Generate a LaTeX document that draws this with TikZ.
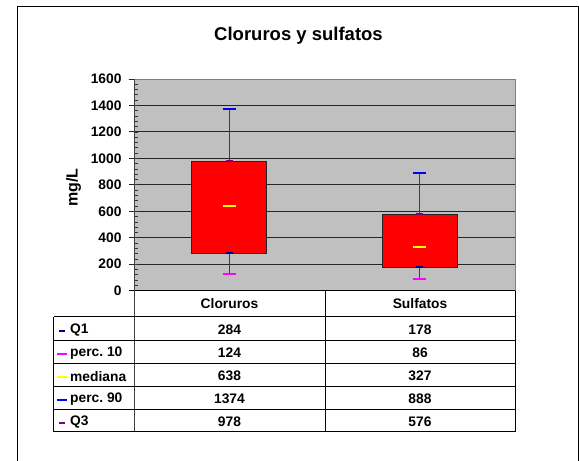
\documentclass[tikz,border=0pt]{standalone}
\usepackage{fontspec}
\setmainfont{Liberation Sans}
\frenchspacing
\definecolor{plotgray}{HTML}{C0C0C0}
\definecolor{bordergray}{HTML}{808080}
\definecolor{whiskgray}{HTML}{404040}
\definecolor{q1c}{HTML}{000080}
\definecolor{p10c}{HTML}{FF00FF}
\definecolor{medc}{HTML}{FFFF00}
\definecolor{p90c}{HTML}{0000FF}
\definecolor{q3c}{HTML}{800080}
\newcommand{\vy}[1]{{290.7-(#1)*0.13231}}
\newcommand{\bxp}[6]{%
  \draw[whisk] (#1,\vy{#3}) -- (#1,\vy{#5});
  \filldraw[boxst] ({#1-37.5},\vy{#6}) rectangle ({#1+37.5},\vy{#2});
  \draw[mk,p90c] ({#1-6.5},\vy{#5}) -- ({#1+6.5},\vy{#5});
  \draw[mk,p10c] ({#1-6.5},\vy{#3}) -- ({#1+6.5},\vy{#3});
  \draw[mk,medc] ({#1-6.5},\vy{#4}) -- ({#1+6.5},\vy{#4});
  \draw[mk,q3c] ({#1-3.5},\vy{#6}) -- ({#1+3.5},\vy{#6});
  \draw[mk,q1c] ({#1-3.5},\vy{#2}) -- ({#1+3.5},\vy{#2});
}
\begin{document}
\begin{tikzpicture}[x=1pt,y=-1pt,
  txt/.style={font=\bfseries\fontsize{13.8}{16}\selectfont, inner sep=0pt},
  gridln/.style={line width=1pt, black!85},
  tabln/.style={line width=1pt, black},
  whisk/.style={line width=1.3pt, whiskgray},
  boxst/.style={fill=red, draw=black!85, line width=1pt},
  mk/.style={line width=2pt}]
\useasboundingbox (0,0) rectangle (579,461);
\fill[white] (0,0) rectangle (579,461);
% outer frame
\draw[line width=1pt] (17,470) -- (17,6.5) -- (578,6.5) -- (578,470);
% title
\node[txt, font=\bfseries\fontsize{18.5}{20}\selectfont, anchor=base] (title) at (298.5,40) {Cloruros y sulfatos};
% plot area
\fill[plotgray] (134,79) rectangle (515,290.7);
\foreach \v in {200,400,...,1400} {
  \draw[gridln] (134,\vy{\v}) -- (515,\vy{\v});
}
\draw[line width=1pt, bordergray] (134,79) -- (515,79) -- (515,290.7);
% minor ticks
\foreach \v in {40,80,...,1560} {
  \draw[line width=0.8pt, black!80] (134,\vy{\v}) -- (137.5,\vy{\v});
}
% major ticks and labels
\foreach \v [count=\i] in {0,200,...,1600} {
  \draw[line width=1pt, black!85] (128.5,\vy{\v}) -- (134,\vy{\v});
  \node[txt, anchor=east] (tick\i) at (121.7,\vy{\v}) {\v};
}
% y label
\node[txt, font=\bfseries\fontsize{16}{18}\selectfont, rotate=90] (ylab) at (73.5,187.5) {mg/L};
% boxes
\bxp{229.4}{284}{124}{638}{1374}{978}
\bxp{419.7}{178}{86}{327}{888}{576}
% table
\draw[tabln] (128.5,290.7) -- (515,290.7);
\draw[line width=1pt, black!75] (134,79) -- (134,431.7);
\draw[tabln] (325,290.7) -- (325,431.7);
\draw[tabln] (515,290.7) -- (515,431.7);
\draw[tabln] (53.5,316.7) -- (53.5,431.7);
\foreach \yy in {316.7,340.3,363.3,386.3,409.3,431.7} {
  \draw[tabln] (53.5,\yy) -- (515,\yy);
}
\node[txt] (hc) at (229.5,304) {Cloruros};
\node[txt] (hs) at (420,304) {Sulfatos};
% rows
\foreach \lab/\c/\s/\col/\w/\yc [count=\i] in {
  Q1/284/178/q1c/2.8/328.5,
  perc. 10/124/86/p10c/5/351.8,
  mediana/638/327/medc/5/374.8,
  perc. 90/1374/888/p90c/5/397.8,
  Q3/978/576/q3c/2.8/420.5} {
  \draw[mk,\col] ({61.7-\w},\yc+2) -- ({61.7+\w},\yc+2);
  \node[txt, anchor=west] (lab\i) at (70,\yc+1.5) {\lab};
  \node[txt] (vc\i) at (229.5,\yc+1) {\c};
  \node[txt] (vs\i) at (420,\yc+1) {\s};
}
\end{tikzpicture}
\end{document}
